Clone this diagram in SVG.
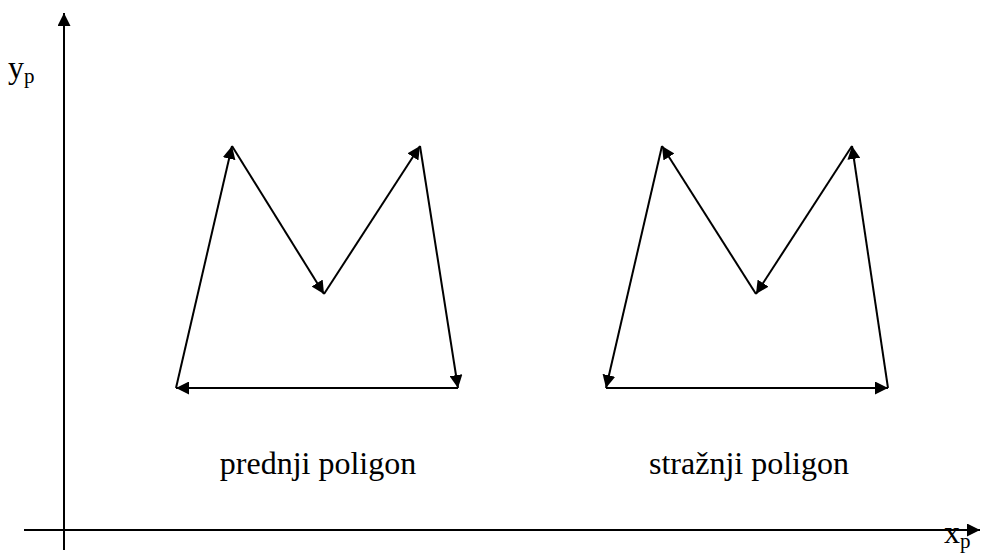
<svg xmlns="http://www.w3.org/2000/svg" width="992" height="554" viewBox="0 0 992 554">
<style>
.ln{stroke:#000;stroke-width:2;fill:none}
.t{font-family:"Liberation Serif","Times New Roman","DejaVu Serif",serif;font-size:32px;fill:#000}
.s{font-size:21px}
</style>
<defs>
<marker id="ah" viewBox="0 0 10 10" refX="10" refY="5" markerWidth="13" markerHeight="13" markerUnits="userSpaceOnUse" orient="auto">
<path d="M0,0 L10,5 L0,10 z" fill="#000"/>
</marker>
</defs>
<rect width="992" height="554" fill="#fff"/>
<g id="axes">
<line class="ln" x1="64" y1="550" x2="64" y2="13" marker-end="url(#ah)"/>
<line class="ln" x1="24" y1="530" x2="980" y2="530" marker-end="url(#ah)"/>
</g>
<g id="connectors">
<line class="ln" x1="176" y1="388" x2="232" y2="146" marker-end="url(#ah)"/>
<line class="ln" x1="232" y1="146" x2="324" y2="294" marker-end="url(#ah)"/>
<line class="ln" x1="324" y1="294" x2="420" y2="146" marker-end="url(#ah)"/>
<line class="ln" x1="420" y1="146" x2="458" y2="388" marker-end="url(#ah)"/>
<line class="ln" x1="458" y1="388" x2="176" y2="388" marker-end="url(#ah)"/>
<line class="ln" x1="606" y1="388" x2="888" y2="388" marker-end="url(#ah)"/>
<line class="ln" x1="888" y1="388" x2="852" y2="146" marker-end="url(#ah)"/>
<line class="ln" x1="852" y1="146" x2="756" y2="294" marker-end="url(#ah)"/>
<line class="ln" x1="756" y1="294" x2="662" y2="146" marker-end="url(#ah)"/>
<line class="ln" x1="662" y1="146" x2="606" y2="388" marker-end="url(#ah)"/>
</g>
<g id="labels">
<text class="t" x="8" y="78" font-family="Liberation Serif, serif">y<tspan class="s" dy="5">p</tspan></text>
<text class="t" x="944" y="543" font-family="Liberation Serif, serif">x<tspan class="s" dy="5">p</tspan></text>
<text class="t" x="318" y="474" text-anchor="middle" font-family="Liberation Serif, serif">prednji poligon</text>
<text class="t" x="749" y="474" text-anchor="middle" font-family="Liberation Serif, serif">stražnji poligon</text>
</g>
</svg>
